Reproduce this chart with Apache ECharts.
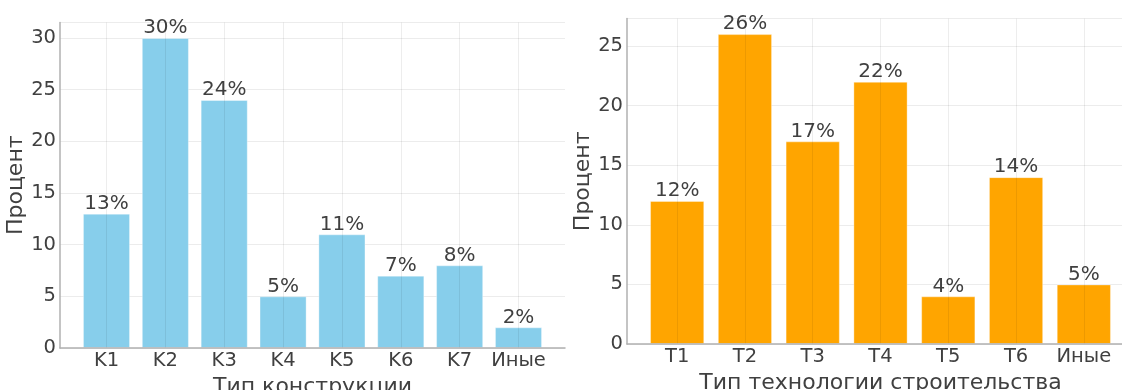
<!DOCTYPE html>
<html>
<head>
<meta charset="utf-8">
<script src="https://cdn.jsdelivr.net/npm/echarts@6/dist/echarts.min.js"></script>
<style>
html,body{margin:0;padding:0;background:#fff;}
#c{width:1122px;height:390px;}
</style>
</head>
<body>
<div id="c"></div>
<script>
// ---- data ----
const constrCategories = ['K1', 'K2', 'K3', 'K4', 'K5', 'K6', 'K7', 'Иные'];
const constrValues = [13, 30, 24, 5, 11, 7, 8, 2];
const techCategories = ['T1', 'T2', 'T3', 'T4', 'T5', 'T6', 'Иные'];
const techValues = [12, 26, 17, 22, 4, 14, 5];
const constrYTicks = [0, 5, 10, 15, 20, 25, 30];
const techYTicks = [0, 5, 10, 15, 20, 25];
const yTitle = 'Процент';
const constrXTitle = 'Тип конструкции';
const techXTitle = 'Тип технологии строительства';

// ---- chart ----
const FONT = 'DejaVu Sans';
const TXT = '#404040';
const AXIS = '#b0b0b0';
const GRID = '#ececec';

function idx(arr) { return arr.map((_, i) => i); }

function xAxisFor(cats, gridIndex, name, pad, gap) {
  return {
    type: 'value', gridIndex: gridIndex,
    min: -0.4 - pad, max: cats.length - 1 + 0.4 + pad,
    name: name, nameLocation: 'middle', nameGap: gap,
    nameTextStyle: { fontFamily: FONT, fontSize: 22, color: TXT },
    axisLine: { show: true, onZero: false, lineStyle: { color: AXIS, width: 1.5 } },
    axisTick: { show: false, customValues: idx(cats) },
    axisLabel: { customValues: idx(cats), formatter: v => cats[Math.round(v)],
      fontFamily: FONT, fontSize: 19.5, color: TXT, margin: 3 },
    splitLine: { show: true, lineStyle: { color: 'rgba(0,0,0,0.07)', width: 1 } },
    z: 3
  };
}
function yAxisFor(ticks, gridIndex, max) {
  return {
    type: 'value', gridIndex: gridIndex, min: 0, max: max, interval: 5,
    name: yTitle, nameLocation: 'middle', nameGap: 26, nameRotate: 90,
    nameTextStyle: { fontFamily: FONT, fontSize: 22, color: TXT },
    axisLine: { show: true, onZero: false, lineStyle: { color: AXIS, width: 1.5 } },
    axisTick: { show: false },
    axisLabel: { fontFamily: FONT, fontSize: 19.5, color: TXT, margin: 4,
      showMaxLabel: false,
      formatter: v => (ticks.indexOf(v) >= 0 ? String(v) : '') },
    splitLine: { show: true, lineStyle: { color: GRID, width: 1 } }
  };
}
function barSeries(cats, vals, gi, color) {
  return {
    type: 'bar', xAxisIndex: gi, yAxisIndex: gi,
    data: cats.map((c, i) => [i, vals[i]]),
    barWidth: '80%',
    itemStyle: { color: color, borderColor: 'rgba(255,255,255,0.35)', borderWidth: 1 },
    label: { show: true, position: 'top', distance: 0,
      fontFamily: FONT, fontSize: 20, color: TXT,
      formatter: p => p.value[1] + '%' },
    z: 2
  };
}

const chart = echarts.init(document.getElementById('c'), null, { renderer: 'canvas' });
chart.setOption({
  animation: false,
  backgroundColor: '#fff',
  grid: [
    { left: 60, right: 557, top: 22.5, bottom: 42, containLabel: false, outerBoundsMode: 'none' },
    { left: 627, right: -12, top: 18.6, bottom: 46, containLabel: false, outerBoundsMode: 'none' }
  ],
  xAxis: [
    xAxisFor(constrCategories, 0, constrXTitle, 0.39, 19),
    xAxisFor(techCategories, 1, techXTitle, 0.34, 18)
  ],
  yAxis: [
    yAxisFor(constrYTicks, 0, 31.5),
    yAxisFor(techYTicks, 1, 27.3)
  ],
  series: [
    barSeries(constrCategories, constrValues, 0, '#87CEEB'),
    barSeries(techCategories, techValues, 1, '#FFA500')
  ]
});
</script>
</body>
</html>
